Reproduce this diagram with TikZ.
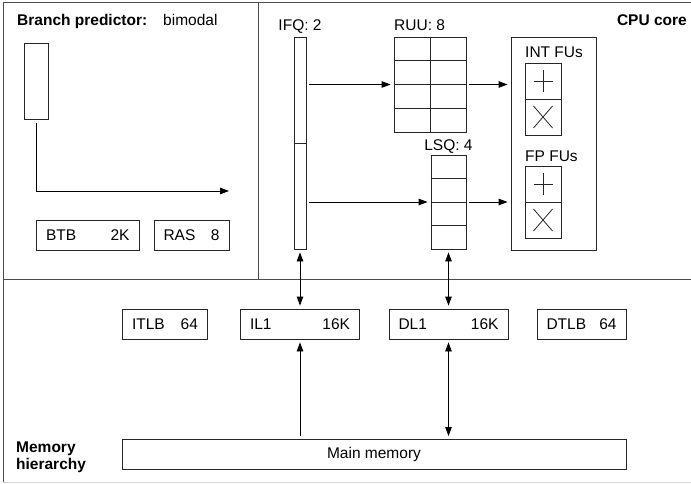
\documentclass[tikz,border=0pt]{standalone}
\usepackage{fontspec}
\setmainfont{Liberation Sans}
\usetikzlibrary{arrows.meta,calc,positioning}

\tikzset{
  every node/.style={font=\fontsize{15.5}{17}\selectfont},
  frame/.style={draw=black!70, line width=1pt},
  unit/.style={draw=black!85, line width=0.8pt, inner sep=0pt},
  cache/.style={unit, minimum height=30pt, inner xsep=9.5pt},
  txt/.style={inner sep=0pt, anchor=base west},
  head/.style={txt, font=\fontsize{15.5}{17}\selectfont\bfseries},
  conn/.style={line width=0.8pt, -{Triangle[length=9pt,width=6.5pt]}, shorten <=3pt, shorten >=3pt},
  dconn/.style={conn, {Triangle[length=9pt,width=6.5pt]}-{Triangle[length=9pt,width=6.5pt]}},
}

\begin{document}
\begin{tikzpicture}[x=1pt,y=-1pt]
\useasboundingbox (0,0) rectangle (691,484);

% frame
\draw[frame] (691,3) -- (3,3) -- (3,482);
\draw[draw=black!15, line width=1pt] (3,482) -- (691,482);
\draw[frame] (3,279) -- (691,279);
\draw[frame] (258,3) -- (258,279);

% branch predictor
\node[head] (bphead) at (17,26) {Branch predictor:};
\node[txt] (bpkind) at (163,26) {bimodal};
\node[unit, minimum width=24pt, minimum height=76pt] (bpt) at (36,81) {};
\coordinate (bpout) at (229,191);
\node[cache] (btb) at (87.75,235) {\makebox[83.5pt]{BTB\hfill 2K}};
\node[cache] (ras) at (191.5,235) {\makebox[56pt]{RAS\hfill 8}};
\draw[conn, shorten <=4pt, shorten >=0pt] (bpt.south) |- (bpout);

% cpu core
\node[head, anchor=base east] (cpuhead) at (687,26) {CPU core};

\node[unit, minimum width=12pt, minimum height=212pt] (ifq) at (300,143) {};
\draw[unit] (ifq.west) -- (ifq.east);
\node[txt, anchor=base] (ifqlbl) at (300,31) {IFQ: 2};

\node[unit, minimum width=72pt, minimum height=95pt] (ruu) at (430,84.5) {};
\draw[unit] (ruu.north) -- (ruu.south);
\foreach \k in {1,2,3}
  \draw[unit] ($(ruu.north west)!\k/4!(ruu.south west)$) -- ($(ruu.north east)!\k/4!(ruu.south east)$);
\node[txt] (ruulbl) at (394,31) {RUU: 8};

\node[unit, minimum width=35pt, minimum height=94pt] (lsq) at (448.5,202) {};
\foreach \k in {1,2,3}
  \draw[unit] ($(lsq.north west)!\k/4!(lsq.south west)$) -- ($(lsq.north east)!\k/4!(lsq.south east)$);
\node[txt, anchor=base] (lsqlbl) at (448.5,150) {LSQ: 4};

\node[unit, minimum width=85pt, minimum height=213pt] (fu) at (553.5,143.5) {};
\node[txt] (intlbl) at (525,58) {INT FUs};
\node[unit, minimum width=36pt, minimum height=72pt] (intfu) at (543,99) {};
\node[txt] (fplbl) at (525,162) {FP FUs};
\node[unit, minimum width=36pt, minimum height=72pt] (fpfu) at (543,202) {};
\foreach \f in {intfu,fpfu} {
  \draw[unit] (\f.west) -- (\f.east);
  \draw[unit] ($(\f.center)+(-9.5,-18)$) -- ($(\f.center)+(9.5,-18)$);
  \draw[unit] ($(\f.center)+(0,-29)$) -- ($(\f.center)+(0,-7)$);
  \draw[unit] ($(\f.center)+(-9.5,7)$) -- ($(\f.center)+(9.5,29)$);
  \draw[unit] ($(\f.center)+(-9.5,29)$) -- ($(\f.center)+(9.5,7)$);
}

\draw[conn] (ifq.east |- ruu.west) -- (ruu.west);
\draw[conn] (ruu.east) -- (fu.west |- ruu.east);
\draw[conn] (ifq.east |- lsq.west) -- (lsq.west);
\draw[conn] (lsq.east) -- (fu.west |- lsq.east);

% memory hierarchy
\node[head, align=left, anchor=north west] (memhead) at (16,442) {Memory\\hierarchy};
\node[cache] (itlb) at (165,324) {\makebox[66pt]{ITLB\hfill 64}};
\node[cache] (il1) at (300,324) {\makebox[100pt]{IL1\hfill 16K}};
\node[cache] (dl1) at (448.5,324) {\makebox[100pt]{DL1\hfill 16K}};
\node[cache] (dtlb) at (581.5,324) {\makebox[70pt]{DTLB\hfill 64}};
\node[cache, minimum width=504pt] (main) at (374,454.5) {Main memory};

\draw[dconn] (ifq.south) -- (il1.north);
\draw[dconn] (lsq.south) -- (dl1.north);
\draw[conn] (il1.south |- main.north) -- (il1.south);
\draw[dconn] (dl1.south) -- (dl1.south |- main.north);
\end{tikzpicture}
\end{document}
